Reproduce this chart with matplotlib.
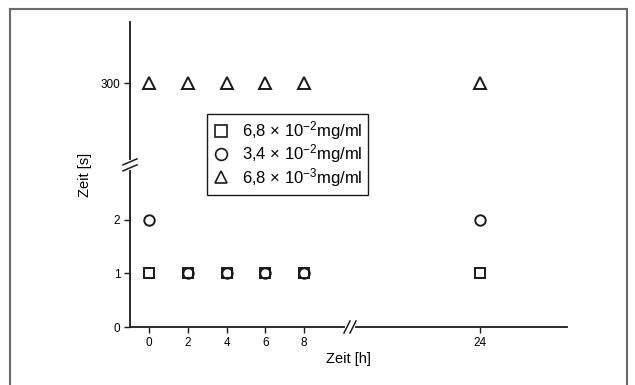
import matplotlib
matplotlib.use("Agg")
import matplotlib.pyplot as plt
from matplotlib.lines import Line2D
import numpy as np

plt.rcParams['font.family'] = ['Liberation Sans', 'DejaVu Sans']
plt.rcParams['mathtext.fontset'] = 'custom'
plt.rcParams['mathtext.rm'] = 'Liberation Sans'
plt.rcParams['mathtext.it'] = 'Liberation Sans'

# data
zeit_h = [0, 2, 4, 6, 8, 24]
quadrat = [1, 1, 1, 1, 1, 1]        # 6,8 x 10^-2 mg/ml
kreis = [2, 1, 1, 1, 1, 2]          # 3,4 x 10^-2 mg/ml
dreieck = [300, 300, 300, 300, 300, 300]  # 6,8 x 10^-3 mg/ml
labels = [r'6,8 $\times$ 10$^{-2}$mg/ml',
          r'3,4 $\times$ 10$^{-2}$mg/ml',
          r'6,8 $\times$ 10$^{-3}$mg/ml']
xticks = [0, 2, 4, 6, 8, 24]
yticks = [0, 1, 2, 300]

# broken axes as piecewise linear scales
xd = [-100, 10, 17, 100]
xp = [-100, 10, 10.07, 93.07]
yd = [-100, 3, 280, 1000]
yp = [-100, 3, 3.56, 39.56]


def xf(x):
    return np.interp(x, xd, xp)


def xi(p):
    return np.interp(p, xp, xd)


def yf(y):
    return np.interp(y, yd, yp)


def yi(p):
    return np.interp(p, yp, yd)


fig = plt.figure(figsize=(6.35, 3.85), dpi=100)
ax = fig.add_axes([130 / 635, 58 / 385, 437 / 635, 305 / 385])
ax.set_xscale('function', functions=(xf, xi))
ax.set_yscale('function', functions=(yf, yi))
ax.set_xlim(xi(-0.98), xi(21.55))
ax.set_ylim(0, yi(5.70))

col = '#1a1a1a'
ax.plot(zeit_h, quadrat, ls='none', marker='s', ms=7, mfc='none', mec=col, mew=1.4, label=labels[0])
ax.plot(zeit_h, kreis, ls='none', marker='o', ms=7.5, mfc='none', mec=col, mew=1.4, label=labels[1])
ax.plot(zeit_h, dreieck, ls='none', marker='^', ms=8, mfc='none', mec=col, mew=1.4, label=labels[2])

ax.set_xticks(xticks)
ax.set_xticklabels([str(t) for t in xticks])
ax.set_yticks(yticks)
ax.set_yticklabels([str(t) for t in yticks])
ax.minorticks_off()
ax.tick_params(direction='out', length=4, width=1, color=col, labelsize=8.5, pad=3)

for s in ['top', 'right']:
    ax.spines[s].set_visible(False)
for s in ['left', 'bottom']:
    ax.spines[s].set_linewidth(1.3)
    ax.spines[s].set_color(col)

ax.set_xlabel('Zeit [h]', fontsize=10.5, labelpad=2)
ax.set_ylabel('Zeit [s]', fontsize=10.5, labelpad=6)

leg = ax.legend(loc='upper left', bbox_to_anchor=(0.176, 0.70), borderaxespad=0,
                fancybox=False, framealpha=1, edgecolor=col, fontsize=12,
                handletextpad=0.75, handlelength=1.0, borderpad=0.35, labelspacing=0.02)
leg.get_frame().set_linewidth(1.0)
for h in leg.legend_handles:
    h.set_markersize(8.5)
    h.set_markeredgewidth(1.2)

# break marks
W, H = 437.0, 305.0
kw = dict(transform=ax.transAxes, clip_on=False, color=col, lw=1.1)
# y axis break
by = 3.03 / 5.70
ax.plot([0, 0], [by - 3 / H, by + 3 / H], transform=ax.transAxes, clip_on=False,
        color='white', lw=3, zorder=5)
for d in (-3, 3):
    ax.plot([-7 / W, 7 / W], [by + d / H - 3 / H, by + d / H + 3 / H], zorder=6, **kw)
# x axis break
bx = 220 / W
ax.plot([bx - 3 / W, bx + 3 / W], [0, 0], transform=ax.transAxes, clip_on=False,
        color='white', lw=3, zorder=5)
for d in (-3, 3):
    ax.plot([bx + d / W - 3 / W, bx + d / W + 3 / W], [-6 / H, 6 / H], zorder=6, **kw)

# outer frame
fc = '#6a6a6a'
fig.add_artist(Line2D([9.5 / 635, 9.5 / 635], [0, 1 - 8.5 / 385], color=fc, lw=1.5))
fig.add_artist(Line2D([9.5 / 635, 627 / 635], [1 - 8.5 / 385, 1 - 8.5 / 385], color=fc, lw=1.5))
fig.add_artist(Line2D([627 / 635, 627 / 635], [0, 1 - 8.5 / 385], color=fc, lw=1.5))

fig.savefig('out.png', dpi=100)
